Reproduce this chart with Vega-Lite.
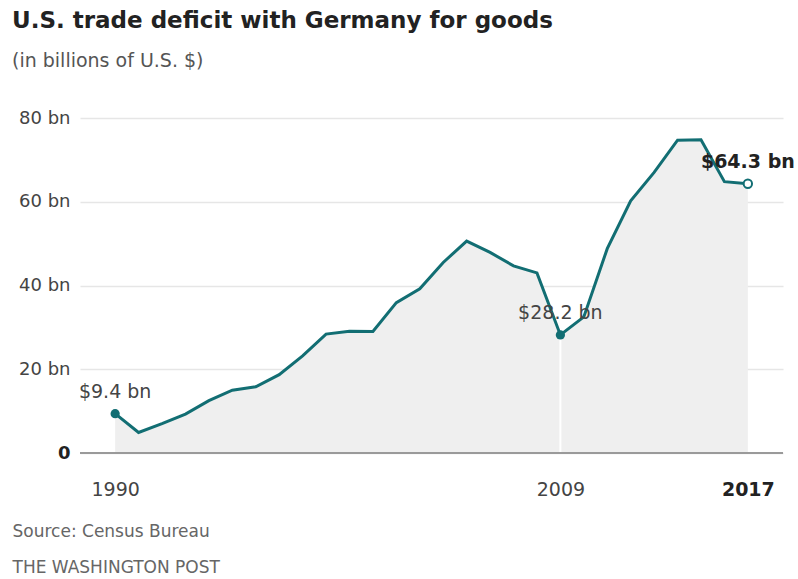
{
  "$schema": "https://vega.github.io/schema/vega-lite/v6.json",
  "width": 703,
  "height": 335,
  "autosize": {"type": "none"},
  "padding": {"left": 80, "top": 118, "right": 15, "bottom": 126},
  "background": "white",
  "config": {"view": {"stroke": null}, "font": "DejaVu Sans"},
  "title": {
    "text": "U.S. trade deficit with Germany for goods",
    "subtitle": "(in billions of U.S. $)",
    "anchor": "start",
    "frame": "group",
    "dx": -68,
    "offset": 38,
    "font": "DejaVu Sans",
    "fontSize": 23,
    "fontWeight": "bold",
    "color": "#222222",
    "subtitleFont": "DejaVu Sans",
    "subtitleFontSize": 19,
    "subtitleColor": "#555555",
    "subtitlePadding": 19
  },
  "data": {
    "values": [
      {"year": 1990, "value": 9.4, "label": "$9.4 bn"},
      {"year": 1991, "value": 4.9, "label": null},
      {"year": 1992, "value": 7.0, "label": null},
      {"year": 1993, "value": 9.3, "label": null},
      {"year": 1994, "value": 12.5, "label": null},
      {"year": 1995, "value": 15.0, "label": null},
      {"year": 1996, "value": 15.8, "label": null},
      {"year": 1997, "value": 18.7, "label": null},
      {"year": 1998, "value": 23.2, "label": null},
      {"year": 1999, "value": 28.4, "label": null},
      {"year": 2000, "value": 29.1, "label": null},
      {"year": 2001, "value": 29.0, "label": null},
      {"year": 2002, "value": 35.9, "label": null},
      {"year": 2003, "value": 39.2, "label": null},
      {"year": 2004, "value": 45.5, "label": null},
      {"year": 2005, "value": 50.6, "label": null},
      {"year": 2006, "value": 47.9, "label": null},
      {"year": 2007, "value": 44.7, "label": null},
      {"year": 2008, "value": 43.0, "label": null},
      {"year": 2009, "value": 28.2, "label": "$28.2 bn"},
      {"year": 2010, "value": 32.5, "label": null},
      {"year": 2011, "value": 48.8, "label": null},
      {"year": 2012, "value": 60.2, "label": null},
      {"year": 2013, "value": 67.0, "label": null},
      {"year": 2014, "value": 74.7, "label": null},
      {"year": 2015, "value": 74.8, "label": null},
      {"year": 2016, "value": 64.8, "label": null},
      {"year": 2017, "value": 64.3, "label": "$64.3 bn"}
    ]
  },
  "encoding": {
    "x": {
      "field": "year",
      "type": "quantitative",
      "scale": {"domain": [1988.5, 2018.5], "nice": false, "zero": false},
      "axis": {
        "values": [1990, 2009, 2017],
        "format": "d",
        "domain": false,
        "ticks": false,
        "grid": false,
        "labelPadding": 27,
        "labelFont": "DejaVu Sans",
        "labelFontSize": 19,
        "labelColor": {"condition": {"test": "datum.value === 2017", "value": "#222222"}, "value": "#444444"},
        "labelFontWeight": {"condition": {"test": "datum.value === 2017", "value": "bold"}, "value": "normal"},
        "title": ["Source: Census Bureau", "THE WASHINGTON POST"],
        "titleAnchor": "start",
        "titleAlign": "left",
        "titleBaseline": "top",
        "titleX": -68,
        "titleY": 70,
        "titleFont": "DejaVu Sans",
        "titleFontSize": 17,
        "titleFontWeight": "normal",
        "titleColor": "#666666",
        "titleLineHeight": 36
      }
    },
    "y": {
      "field": "value",
      "type": "quantitative",
      "scale": {"domain": [0, 80], "nice": false},
      "axis": {
        "values": [0, 20, 40, 60, 80],
        "labelExpr": "datum.value === 0 ? '0' : datum.value + ' bn'",
        "domain": false,
        "ticks": false,
        "grid": true,
        "gridColor": "#e6e6e6",
        "gridWidth": 1.5,
        "labelPadding": 10,
        "labelFont": "DejaVu Sans",
        "labelFontSize": 18,
        "labelColor": {"condition": {"test": "datum.value === 0", "value": "#222222"}, "value": "#444444"},
        "labelFontWeight": {"condition": {"test": "datum.value === 0", "value": "bold"}, "value": "normal"},
        "title": null
      }
    }
  },
  "layer": [
    {"mark": {"type": "area", "color": "#efefef"}},
    {
      "transform": [{"filter": "datum.year === 2009"}],
      "mark": {"type": "rule", "color": "white", "strokeWidth": 2},
      "encoding": {"y2": {"datum": 0}}
    },
    {
      "mark": {"type": "rule", "color": "#9a9a9a", "strokeWidth": 1.5},
      "encoding": {"x": null, "y": {"datum": 0}}
    },
    {"mark": {"type": "line", "color": "#126e73", "strokeWidth": 3}},
    {
      "transform": [{"filter": "datum.year === 1990 || datum.year === 2009"}],
      "mark": {"type": "point", "filled": true, "color": "#126e73", "size": 85, "opacity": 1}
    },
    {
      "transform": [{"filter": "datum.year === 2017"}],
      "mark": {"type": "point", "filled": true, "fill": "white", "stroke": "#126e73", "strokeWidth": 2, "size": 70, "opacity": 1}
    },
    {
      "transform": [{"filter": "datum.label != null && datum.year !== 2017"}],
      "mark": {"type": "text", "dy": -22, "font": "DejaVu Sans", "fontSize": 19, "color": "#444444", "align": "center", "baseline": "middle"},
      "encoding": {"text": {"field": "label"}}
    },
    {
      "transform": [{"filter": "datum.year === 2017"}],
      "mark": {"type": "text", "dy": -22, "font": "DejaVu Sans", "fontSize": 19, "fontWeight": "bold", "color": "#222222", "align": "center", "baseline": "middle"},
      "encoding": {"text": {"field": "label"}}
    }
  ]
}
